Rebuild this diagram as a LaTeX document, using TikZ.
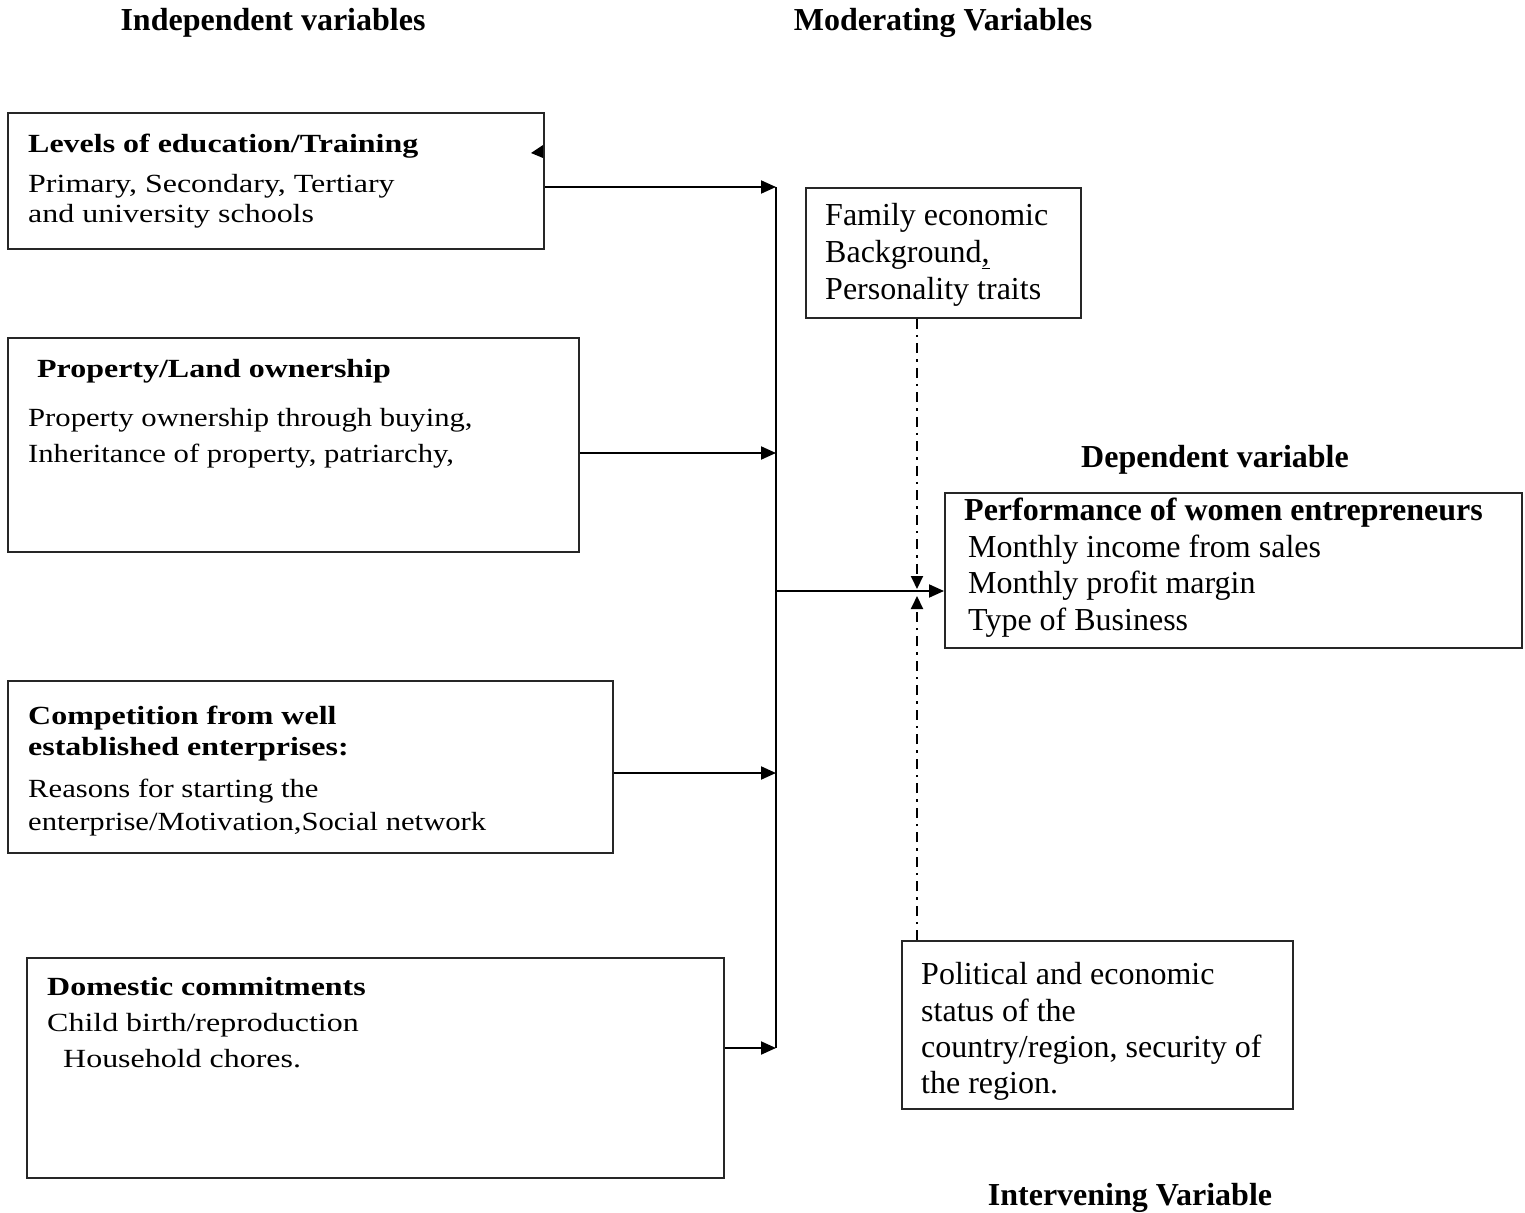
\documentclass[tikz,border=0pt]{standalone}
\usepackage{fontspec}
\setmainfont{Liberation Serif}
\newfontfamily\sqfont{Liberation Serif}[FakeStretch=1.22]
\newfontfamily\sqbfont{Liberation Serif}[FakeStretch=1.17]
\usetikzlibrary{arrows.meta,calc}
\tikzset{
  box/.style={draw=black!85, line width=1.8pt, inner sep=0, anchor=north west},
  ln/.style={anchor=base west, inner sep=0, font=\fontsize{32}{37}\selectfont},
  sq/.style={anchor=base west, inner sep=0, font=\sqfont\fontsize{26.2}{30}\selectfont},
  sqh/.style={anchor=base west, inner sep=0, font=\sqfont\bfseries\fontsize{26.2}{30}\selectfont},
  sqb/.style={anchor=base west, inner sep=0, font=\sqbfont\fontsize{26.2}{30}\selectfont},
  ttl/.style={anchor=base, inner sep=0, font=\bfseries\fontsize{32}{37}\selectfont},
  arr/.style={line width=2pt, -{Triangle[length=15pt,width=13pt]}},
  ddash/.style={line width=2pt, dash pattern=on 10pt off 6pt on 2.5pt off 6pt, -{Triangle[length=13pt,width=12pt]}},
}
\begin{document}
\begin{tikzpicture}[x=1pt,y=-1pt]
\useasboundingbox[fill=white] (0,0) rectangle (1525,1212);

% titles
\node[ttl] (tind) at (273,31) {Independent variables};
\node[ttl] (tmod) at (943,31) {Moderating Variables};
\node[ttl] (tdep) at (1215,467) {Dependent variable};
\node[ttl] (tint) at (1130,1205) {Intervening Variable};

% boxes
\node[box, minimum width=536, minimum height=136] (b1) at (7,112) {};
\node[box, minimum width=571, minimum height=214] (b2) at (7,337) {};
\node[box, minimum width=605, minimum height=172] (b3) at (7,680) {};
\node[box, minimum width=697, minimum height=220] (b4) at (26,957) {};
\node[box, minimum width=275, minimum height=130] (mod) at (805,187) {};
\node[box, minimum width=577, minimum height=155] (dep) at (944,492) {};
\node[box, minimum width=391, minimum height=168] (itv) at (901,940) {};

% box 1 text
\node[sqh] (b1h) at (28,152) {Levels of education/Training};
\node[sq] (b1a) at (28,192) {Primary, Secondary, Tertiary};
\node[sq] (b1b) at (28,222) {and university schools};

% box 2 text
\node[sqh] (b2h) at (37,377) {Property/Land ownership};
\node[sqb] (b2a) at (28,426) {Property ownership through buying,};
\node[sqb] (b2b) at (28,462) {Inheritance of property, patriarchy,};

% box 3 text
\node[sqh] (b3h) at (28,724) {Competition from well};
\node[sqh] (b3i) at (28,755) {established enterprises:};
\node[sqb] (b3a) at (28,797) {Reasons for starting the};
\node[sqb] (b3b) at (28,830) {enterprise/Motivation,Social network};

% box 4 text
\node[sqh] (b4h) at (47,995) {Domestic commitments};
\node[sq] (b4a) at (47,1031) {Child birth/reproduction};
\node[sq] (b4b) at (63,1067) {Household chores.};

% moderating text
\node[ln] (m1) at (825,225) {Family economic};
\node[ln] (m2) at (825,262) {Background\underline{,}};
\node[ln] (m3) at (825,299) {Personality traits};

% dependent text
\node[ln, font=\bfseries\fontsize{32}{37}\selectfont] (d0) at (964,520) {Performance of women entrepreneurs};
\node[ln] (d1) at (968,557) {Monthly income from sales};
\node[ln] (d2) at (968,593) {Monthly profit margin};
\node[ln] (d3) at (968,630) {Type of Business};

% intervening text
\node[ln] (i1) at (921,984) {Political and economic};
\node[ln] (i2) at (921,1021) {status of the};
\node[ln] (i3) at (921,1057) {country/region, security of};
\node[ln] (i4) at (921,1093) {the region.};

% bus coordinates
\coordinate (busA) at (776,187);
\coordinate (busB) at (776,453);
\coordinate (busM) at (776,591);
\coordinate (busC) at (776,773);
\coordinate (busD) at (776,1048);
\coordinate (ddx) at (917,591);

% vertical bus
\draw[line width=2pt] (busA) -- (busD);

% arrows into bus
\draw[arr] (b1.east |- busA) -- (busA);
\draw[arr] (b2.east |- busB) -- (busB);
\draw[arr] (b3.east |- busC) -- (busC);
\draw[arr] (b4.east |- busD) -- (busD);

% bus to dependent
\draw[arr] (busM) -- (dep.west |- busM);

% dash-dot arrows
\draw[ddash] (mod.south -| ddx) -- ($(ddx)+(0,-2)$);
\draw[ddash] (itv.north -| ddx) -- ($(ddx)+(0,5)$);

% small stray triangle on box 1
\fill (531,153) -- (543,145) -- (543,158) -- cycle;
\end{tikzpicture}
\end{document}
